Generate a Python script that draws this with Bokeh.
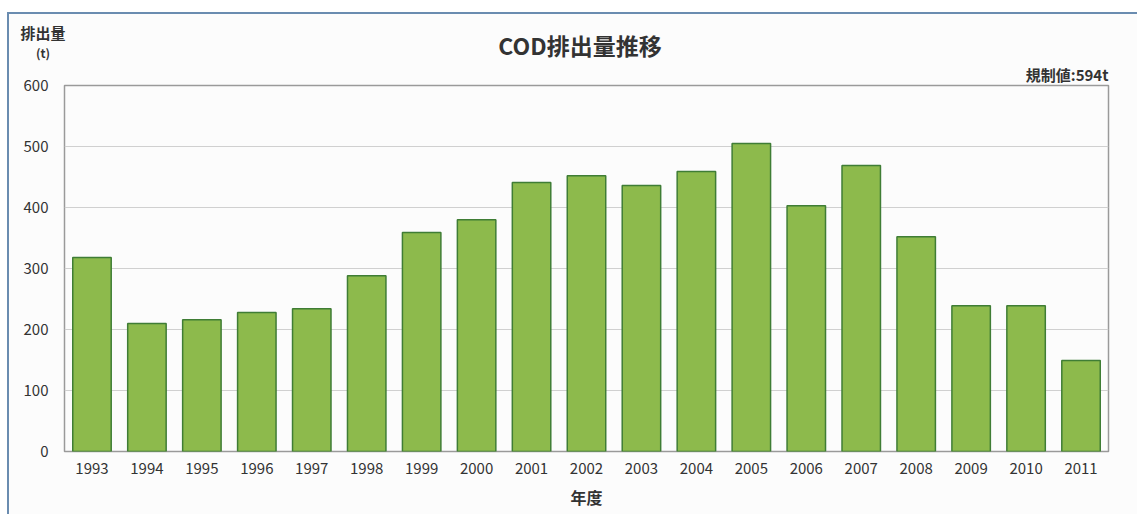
from bokeh.plotting import figure
from bokeh.models import ColumnDataSource, FixedTicker, Title, Div
from bokeh.layouts import column
from bokeh.embed import file_html
from bokeh.resources import INLINE

years = ["1993", "1994", "1995", "1996", "1997", "1998", "1999", "2000", "2001", "2002",
         "2003", "2004", "2005", "2006", "2007", "2008", "2009", "2010", "2011"]
emissions = [318, 210, 216, 228, 234, 288, 359, 380, 441, 452,
             436, 459, 505, 403, 469, 352, 239, 239, 149]
y_ticks = [0, 100, 200, 300, 400, 500, 600]

chart_title = "COD排出量推移"
y_title = "排出量"
y_unit = "(t)"
limit_note = "規制値:594t"
x_title = "年度"

FONT = "Noto Sans CJK JP"
TXT = "#333333"
BG = "#fcfcfc"
HEADER_H = 46

src = ColumnDataSource(dict(year=years, val=emissions))

p = figure(width=1128, height=500 - HEADER_H, x_range=years, y_range=(0, 600),
           output_backend="svg", toolbar_location=None,
           min_border_left=55, min_border_right=29, min_border_top=71 - HEADER_H,
           min_border_bottom=63)
p.background_fill_color = BG
p.border_fill_color = BG
p.outline_line_color = "#9a9a9a"
p.outline_line_width = 1.5

p.vbar(x="year", top="val", width=0.7, source=src,
       fill_color="#8dba4c", line_color="#3f7d35", line_width=1.5)

p.xgrid.grid_line_color = None
p.ygrid.grid_line_color = "#d0d0d0"
p.ygrid.grid_line_width = 1

p.yaxis.ticker = FixedTicker(ticks=y_ticks)
for ax in (p.xaxis, p.yaxis):
    ax.axis_line_color = None
    ax.major_tick_line_color = None
    ax.minor_tick_line_color = None
    ax.major_label_text_font = FONT
    ax.major_label_text_font_size = "15px"
    ax.major_label_text_color = TXT
p.xaxis.major_label_standoff = 5
p.yaxis.major_label_standoff = 10
p.xaxis.axis_label = x_title
p.xaxis.axis_label_text_font = FONT
p.xaxis.axis_label_text_font_size = "16px"
p.xaxis.axis_label_text_font_style = "bold"
p.xaxis.axis_label_text_color = TXT
p.xaxis.axis_label_standoff = 8
p.x_range.range_padding = 0

p.add_layout(Title(text=limit_note, align="right", text_font=FONT,
                   text_font_size="15px", text_font_style="bold",
                   text_color=TXT, standoff=2), "above")

span = (f"position:absolute;transform:translate(-50%,-50%);line-height:1;"
        f"white-space:nowrap;font-weight:bold;color:{TXT};font-family:'{FONT}';")
header_html = (
    f'<div style="position:relative;width:1128px;height:{HEADER_H}px;background:{BG};">'
    f'<span style="{span}left:34px;top:18px;font-size:15px;">{y_title}</span>'
    f'<span style="{span}left:34px;top:39px;font-size:12px;">{y_unit}</span>'
    f'<span style="{span}left:571px;top:31px;font-size:23px;">{chart_title}</span>'
    '</div>'
)
header = Div(text=header_html, width=1128, height=HEADER_H, margin=0,
             styles={"background": BG})

layout = column(header, p, spacing=0, margin=0,
                styles={"border-top": "2px solid #6a8cb0", "border-left": "2px solid #6a8cb0",
                        "margin-left": "7px", "margin-top": "12px", "background": BG})

open("out.html", "w").write(file_html(layout, INLINE))
